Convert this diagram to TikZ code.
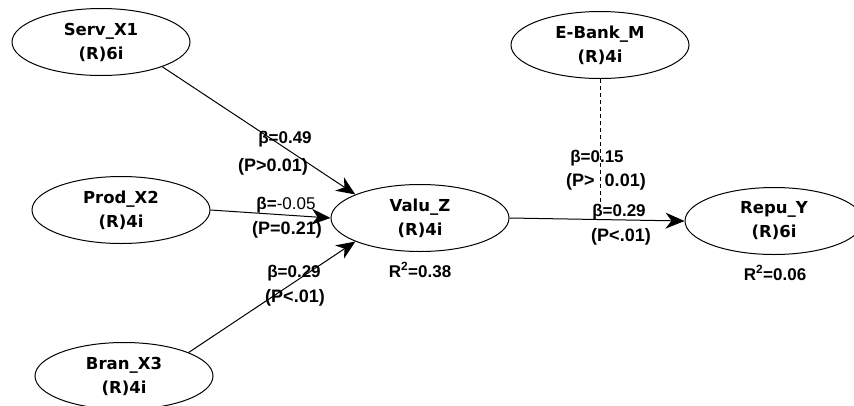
\documentclass[tikz,border=0pt]{standalone}
\usepackage{fontspec}
\setmainfont{DejaVu Sans}
\newfontfamily\labfont{Liberation Sans}
\usetikzlibrary{shapes.geometric,arrows.meta}
\begin{document}
\begin{tikzpicture}[x=1pt,y=-1pt,
  lv/.style={ellipse,draw,line width=1pt,minimum width=178pt,minimum height=67pt,inner sep=0pt,align=center,font=\bfseries\fontsize{16.5}{24}\selectfont},
  conn/.style={line width=1pt,-{Stealth[length=19pt,width=16pt,inset=6pt]}},
  modline/.style={line width=1pt,dash pattern=on 4pt off 3pt},
  lbl/.style={inner sep=0pt,font=\labfont\bfseries\fontsize{17}{19}\selectfont},
  plbl/.style={inner sep=0pt,font=\labfont\bfseries\fontsize{18}{20}\selectfont}]
\useasboundingbox (0,0) rectangle (854,405);
\fill[white] (0,0) rectangle (854,405);

\node[lv] (serv) at (101,42) {Serv\_X1\\(R)6i};
\node[lv] (prod) at (121,210) {Prod\_X2\\(R)4i};
\node[lv] (bran) at (124,376) {Bran\_X3\\(R)4i};
\node[lv] (valu) at (420,218) {Valu\_Z\\(R)4i};
\node[lv] (ebank) at (600,45) {E-Bank\_M\\(R)4i};
\node[lv] (repu) at (774,221) {Repu\_Y\\(R)6i};

\draw[conn] (serv.-22) -- (valu.160);
\draw[conn] (prod.east) -- (valu.west);
\draw[conn] (bran.20) -- (valu.200);
\draw[conn] (valu.east) -- (repu.west);
\coordinate (m) at (600,205);
\draw[modline] (ebank.south) -- (m);

\node[lbl] (b1) at (285,139) {β=0.49};
\node[plbl] (p1) at (273,167) {(P>0.01)};
\node[lbl] (b2) at (286,205) {β={\mdseries -0.05}};
\node[plbl] (p2) at (287,230) {(P=0.21)};
\node[lbl] (b3) at (294,273) {β=0.29};
\node[plbl] (p3) at (295,298) {(P<.01)};
\node[lbl] (b4) at (597,158) {β=0.15};
\node[plbl] (p4) at (606,182) {(P>\ \ 0.01)};
\node[lbl] (b5) at (619,212) {β=0.29};
\node[plbl] (p5) at (621,237) {(P<.01)};
\node[lbl] (r1) at (420,270) {R\textsuperscript{2}=0.38};
\node[lbl] (r2) at (775,273) {R\textsuperscript{2}=0.06};
\end{tikzpicture}
\end{document}
